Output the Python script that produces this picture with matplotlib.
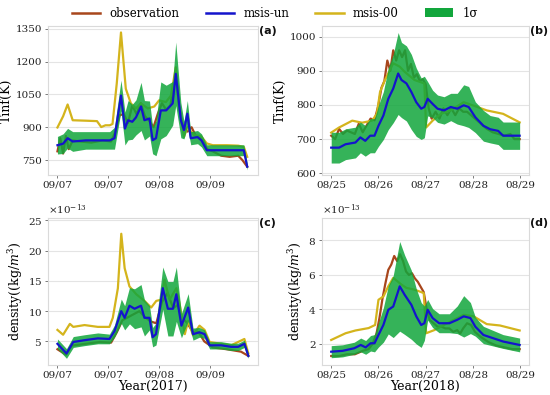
import matplotlib
matplotlib.use("Agg")
import matplotlib.pyplot as plt
import numpy as np
from matplotlib.patches import Patch
from matplotlib.lines import Line2D
from matplotlib.ticker import ScalarFormatter

# ---------------- data (hours since first tick) ----------------
# Panel (a): Tinf 2017
a00_h = [0, 2, 3.6, 5.4, 10, 14, 15.5, 17, 18.5, 19.5, 21, 22.5, 24.2, 26, 27.8, 29.6, 32, 34.3, 36, 38.4,
         40.2, 41.9, 43.1, 44.8, 46, 48.4, 50.8, 52.9, 55, 60, 64, 66, 67.2]
a00 = [899, 950, 1004, 932, 930, 928, 901, 909, 909, 915, 1100, 1333, 1076, 1009, 986, 1009, 986, 995, 1023, 1015,
       1045, 1174, 995, 856, 900, 864, 860, 826, 818, 818, 816, 810, 765]
aun_h = [0, 2, 3.6, 5.4, 10, 15, 18.5, 20.2, 22.5, 23.9, 25, 26.5, 27.8, 29.6, 30.8, 32.6, 33.7, 34.9, 36.6, 38.5,
         40.8, 41.9, 43.7, 44.8, 46, 47.2, 49.6, 51, 52.9, 55, 60, 64, 66, 67.2]
aun = [818, 825, 850, 835, 840, 840, 840, 850, 1045, 894, 932, 925, 945, 995, 932, 940, 841, 850, 977, 977,
       1009, 1144, 932, 887, 962, 850, 855, 840, 795, 795, 795, 795, 795, 720]
asig = [40, 45, 45, 45, 40, 40, 40, 50, 70, 75, 90, 80, 80, 110, 90, 80, 62, 80, 130, 115,
        100, 145, 80, 40, 60, 30, 30, 30, 25, 25, 25, 25, 25, 15]
aobs_h = [0, 1, 2, 3, 4, 5.4, 8, 12, 16, 19, 20.5, 22, 23.5, 25, 26.5, 28, 29.5, 31, 32.5, 34, 35.5, 37, 38.5, 40,
          41, 42, 43, 44.5, 46, 47.5, 49, 51, 53, 55, 58, 61, 64, 65.5, 67.2]
aobs = [790, 850, 780, 860, 800, 840, 835, 830, 840, 835, 880, 955, 960, 920, 1000, 960, 1010, 950, 930, 900, 960,
        1010, 980, 1000, 1080, 1150, 1000, 900, 880, 900, 860, 850, 800, 790, 770, 765, 770, 750, 720]

# Panel (b): Tinf 2018
b00_h = [0, 4, 10.7, 15.7, 20.7, 23.2, 24.8, 27.3, 31.5, 34.8, 37.3, 42.3, 47.3, 48.2, 51.5, 55.7, 60.7, 67.3,
         72.3, 79, 87.3, 95.7]
b00 = [719, 734, 754, 748, 754, 774, 838, 873, 922, 912, 897, 873, 863, 734, 754, 774, 784, 808, 798, 784, 774, 749]
bun_h = [0, 4, 7.3, 12.3, 14.8, 17.3, 19.8, 22, 24, 26.5, 29, 31.5, 34, 35.7, 38.2, 40.7, 43.2, 45.7, 47.3, 49,
         51.5, 54, 57.3, 60.7, 64, 67.3, 69.8, 73.2, 77.3, 80.7, 84.8, 87.3, 95.7]
bun = [675, 675, 685, 690, 705, 695, 710, 710, 739, 769, 818, 848, 892, 873, 863, 838, 808, 789, 794, 818,
       803, 789, 784, 794, 789, 799, 794, 764, 739, 729, 724, 710, 710]
bsig = [45, 45, 45, 45, 45, 45, 50, 50, 60, 70, 90, 100, 120, 110, 110, 110, 100, 90, 90, 50,
        40, 40, 40, 40, 45, 60, 60, 45, 45, 40, 40, 40, 40]
bobs_h = [0, 2, 4, 6, 8, 10, 12, 14, 16, 18, 20, 22, 24, 25.5, 27, 28.5, 30, 31.5, 33, 34.5, 36, 37.5, 39, 40.5,
          42, 43.5, 45, 46.5, 48, 49.5, 51, 53, 55, 57, 59, 61, 63, 65, 67, 69, 71, 73, 76, 79, 82, 85, 88, 91,
          93, 95.7]
bobs = [710, 700, 730, 715, 725, 720, 715, 745, 720, 740, 760, 755, 800, 850, 870, 930, 900, 960, 930, 960, 940,
        960, 900, 920, 880, 890, 870, 875, 860, 790, 760, 780, 760, 790, 770, 790, 770, 790, 780, 780, 770, 760,
        745, 730, 720, 715, 710, 715, 700, 700]

# Panel (c): density 2017 (x1e-13)
c00_h = [0, 2, 4.4, 5.6, 9.6, 14.3, 18.4, 19.6, 21.4, 22.6, 23.8, 25.5, 27.9, 30.8, 33.2, 35, 36.8, 37.9, 39.7,
         42.1, 43.3, 45.1, 46.3, 48, 50.3, 52.1, 53.9, 58, 61.5, 66.2, 67.6]
c00 = [6.9, 6.1, 7.9, 7.4, 7.7, 7.4, 7.4, 8.9, 13.8, 22.8, 17.1, 14.1, 12.8, 11.7, 10.6, 11.7, 11.9, 15.2, 11.9,
       13.8, 11.1, 6.2, 8.4, 6.0, 7.6, 6.9, 4.9, 4.6, 4.35, 5.4, 3.0]
cun_h = [0, 3.2, 5.6, 9.6, 14.3, 18.4, 20.2, 22.6, 23.8, 25.5, 27.3, 29.6, 30.8, 32.6, 33.7, 34.9, 37.3, 39.1,
         40.9, 42.1, 43.9, 46.3, 48, 50.3, 52.1, 53.9, 58, 61.5, 64, 66.2, 67.6]
cun = [4.6, 3.0, 4.9, 5.2, 5.5, 5.4, 6.7, 10.0, 8.9, 10.9, 10.4, 10.9, 8.9, 8.9, 5.7, 6.2, 13.8, 10.4, 10.4, 12.8,
       7.6, 10.6, 6.2, 6.5, 6.2, 4.35, 4.35, 4.1, 4.1, 4.6, 2.6]
csig = [0.8, 0.8, 0.9, 0.9, 0.9, 0.8, 1.0, 2.0, 2.0, 3.0, 3.3, 3.5, 3.0, 2.0, 1.6, 1.8, 3.5, 4.5, 4.5, 4.5,
        2.0, 2.3, 1.0, 0.8, 0.7, 0.6, 0.6, 0.6, 0.6, 0.6, 0.4]
cobs_h = [0, 3, 5, 10, 15, 19, 21, 23, 25, 27, 29, 31, 33, 35, 37, 39, 41, 42.5, 44, 46, 48, 50, 52, 55, 60, 65, 67.6]
cobs = [3.7, 2.8, 4.3, 4.6, 4.9, 4.8, 6.5, 8.5, 9.0, 9.5, 10.0, 9.0, 8.3, 8.0, 11.5, 13.0, 10.5, 11.0, 9.0, 8.0,
        6.5, 6.5, 5.0, 4.0, 3.7, 3.3, 2.6]

# Panel (d): density 2018 (x1e-13)
d00_h = [0, 7.3, 12.3, 19, 22.3, 24, 26.5, 29, 31.5, 35.7, 38.2, 42.3, 47, 48.2, 52.3, 57.3, 62.3, 67.3, 72.3,
         79, 85.7, 95.7]
d00 = [2.23, 2.62, 2.78, 2.92, 3.1, 4.56, 4.75, 5.34, 5.83, 5.44, 5.25, 5.15, 4.95, 2.62, 2.8, 3.1, 3.4, 3.69,
       3.6, 3.15, 3.07, 2.78]
dun_h = [0, 5.8, 11.7, 15, 17.5, 20, 22, 24, 26.5, 29, 31.5, 34.8, 37.3, 40.7, 43.2, 45.7, 47.3, 49, 51.5, 54.8,
         60, 64, 67.3, 70.7, 73.2, 77.3, 82.3, 87.3, 95.7]
dun = [1.55, 1.6, 1.75, 1.94, 1.8, 2.04, 2.04, 2.52, 3.1, 3.98, 4.17, 5.34, 4.85, 4.27, 3.6, 3.1, 3.2, 3.98, 3.5,
       3.2, 3.2, 3.4, 3.6, 3.5, 3.0, 2.52, 2.33, 2.14, 1.94]
dsig = [0.35, 0.35, 0.35, 0.4, 0.4, 0.45, 0.5, 0.7, 1.0, 1.4, 1.8, 2.6, 2.3, 2.0, 1.6, 1.3, 1.0, 0.6, 0.55, 0.55,
        0.55, 0.8, 1.2, 0.9, 0.55, 0.5, 0.45, 0.4, 0.4]
dobs_h = [0, 4, 8, 12, 16, 19, 21, 23, 24.5, 26, 27.5, 29, 30.5, 32, 33.5, 35, 36.5, 38, 39.5, 41, 42.5, 44, 45.5,
          47, 48.5, 50, 52, 54, 56, 58, 60, 62, 64, 65.5, 67, 69, 71, 73, 76, 80, 84, 88, 92, 95.7]
dobs = [1.3, 1.3, 1.4, 1.4, 1.6, 1.7, 2.0, 2.6, 3.5, 4.6, 5.5, 6.3, 6.6, 7.1, 6.8, 7.2, 6.8, 6.2, 6.0, 6.1, 5.8,
        5.6, 5.3, 5.0, 4.0, 3.4, 3.2, 3.0, 3.0, 2.9, 2.9, 2.7, 2.8, 2.6, 2.9, 3.2, 3.1, 2.7, 2.4, 2.1, 1.9, 1.8,
        1.7, 1.7]

ticks_2017 = [0, 18, 36, 54]
labels_2017 = ["09/07", "09/07", "09/08", "09/09"]
ticks_2018 = [0, 24, 48, 72, 96]
labels_2018 = ["08/25", "08/26", "08/27", "08/28", "08/29"]

# ---------------- style ----------------
plt.rcParams['font.family'] = ['DejaVu Serif']
plt.rcParams['mathtext.fontset'] = 'dejavuserif'

C_OBS = '#a8461c'
C_UN = '#1414cc'
C_00 = '#d4b41c'
C_SIG = '#12a63c'

fig = plt.figure(figsize=(5.5, 3.95), dpi=100)
L1, R1 = 0.087, 0.469
L2, R2 = 0.585, 0.962
B1, T1 = 0.557, 0.935
B2, T2 = 0.076, 0.448
ax_a = fig.add_axes([L1, B1, R1 - L1, T1 - B1])
ax_b = fig.add_axes([L2, B1, R2 - L2, T1 - B1])
ax_c = fig.add_axes([L1, B2, R1 - L1, T2 - B2])
ax_d = fig.add_axes([L2, B2, R2 - L2, T2 - B2])


def draw(ax, obs_h, obs, m00_h, m00, un_h, un, sig, scale=1.0):
    un_a = np.array(un) * scale
    sig_a = np.array(sig) * scale
    ax.plot(obs_h, np.array(obs) * scale, color=C_OBS, lw=1.6, zorder=2)
    ax.plot(m00_h, np.array(m00) * scale, color=C_00, lw=1.6, zorder=2)
    ax.fill_between(un_h, un_a - sig_a, un_a + sig_a, color=C_SIG, alpha=0.85, lw=0, zorder=3)
    ax.plot(un_h, un_a, color=C_UN, lw=1.6, zorder=4)


draw(ax_a, aobs_h, aobs, a00_h, a00, aun_h, aun, asig)
draw(ax_b, bobs_h, bobs, b00_h, b00, bun_h, bun, bsig)
draw(ax_c, cobs_h, cobs, c00_h, c00, cun_h, cun, csig, 1e-13)
draw(ax_d, dobs_h, dobs, d00_h, d00, dun_h, dun, dsig, 1e-13)

ax_a.set_yticks([750, 900, 1050, 1200, 1350])
ax_a.set_ylim(682, 1364)
ax_b.set_yticks([600, 700, 800, 900, 1000])
ax_b.set_ylim(595, 1032)
ax_c.set_yticks(np.array([5, 10, 15, 20, 25]) * 1e-13)
ax_c.set_ylim(1.1e-13, 25.4e-13)
ax_d.set_yticks(np.array([2, 4, 6, 8]) * 1e-13)
ax_d.set_ylim(0.78e-13, 9.3e-13)

for ax in (ax_c, ax_d):
    fmt = ScalarFormatter(useMathText=True)
    fmt.set_powerlimits((-13, -13))
    ax.yaxis.set_major_formatter(fmt)

for ax in (ax_a, ax_c):
    ax.set_xlim(-3.4, 71.0)
    ax.set_xticks(ticks_2017)
    ax.set_xticklabels(labels_2017)
for ax in (ax_b, ax_d):
    ax.set_xlim(-4.8, 100.5)
    ax.set_xticks(ticks_2018)
    ax.set_xticklabels(labels_2018)

for ax, lab in zip((ax_a, ax_b, ax_c, ax_d), ("(a)", "(b)", "(c)", "(d)")):
    ax.set_facecolor('white')
    ax.grid(axis='y', color='#e4e4e4', lw=0.8, zorder=0)
    ax.set_axisbelow(True)
    for s in ax.spines.values():
        s.set_color('#dadada')
        s.set_linewidth(0.8)
    ax.tick_params(labelsize=7.5, length=2.5, width=0.6, color='#666666', labelcolor='#222222', pad=1.5)
    ax.yaxis.get_offset_text().set_fontsize(7.5)
    ax.text(1.003, 0.965, lab, transform=ax.transAxes, ha='left', va='center',
            fontsize=8, fontweight='bold', family='DejaVu Sans', color='#111111')

ax_a.set_ylabel("Tinf(K)", fontsize=9, labelpad=2)
ax_b.set_ylabel("Tinf(K)", fontsize=9, labelpad=2)
ax_c.set_ylabel("density((kg/$m^3$)", fontsize=9, labelpad=2)
ax_d.set_ylabel("density((kg/$m^3$)", fontsize=9, labelpad=2)
ax_c.set_xlabel("Year(2017)", fontsize=9, labelpad=0)
ax_d.set_xlabel("Year(2018)", fontsize=9, labelpad=0)

handles = [Line2D([0], [0], color=C_OBS, lw=1.8),
           Line2D([0], [0], color=C_UN, lw=1.8),
           Line2D([0], [0], color=C_00, lw=1.8),
           Patch(facecolor=C_SIG, edgecolor='none')]
labels = ["observation", "msis-un", "msis-00", "1σ"]
fig.legend(handles, labels, loc='upper center', bbox_to_anchor=(0.5, 1.01), ncol=4, frameon=False,
           fontsize=8.5, handlelength=2.4, columnspacing=2.2, handletextpad=0.8)

fig.savefig("out.png", dpi=100)
